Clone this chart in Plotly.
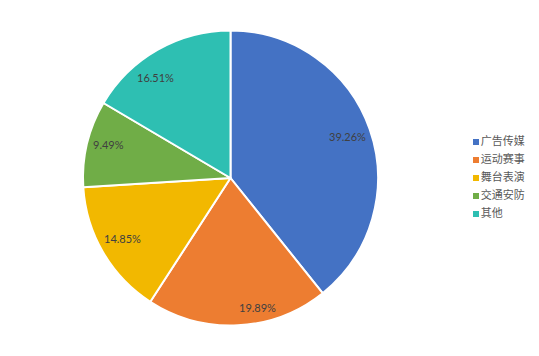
import math
import plotly.graph_objects as go

categories = ["广告传媒", "运动赛事", "舞台表演", "交通安防", "其他"]
values = [39.26, 19.89, 14.85, 9.49, 16.51]
colors = ["#4472C4", "#ED7D31", "#F2B800", "#70AD47", "#2EBFB2"]

# small angular nudges (deg) and radial fractions mimicking Excel's "best fit" label placement
label_nudge_deg = [0, -9, 1, 2, -7]
label_rfrac = [0.84, 0.9, 0.84, 0.86, 0.85]

W, H = 539, 356
cx, cy, r = 230.5, 178.0, 147.5

fig = go.Figure()
fig.add_trace(go.Pie(
    labels=categories, values=values, sort=False, direction="clockwise",
    rotation=0, marker=dict(colors=colors, line=dict(color="white", width=2)),
    textinfo="none", hoverinfo="label+percent", showlegend=False,
    domain=dict(x=[(cx - r) / W, (cx + r) / W], y=[1 - (cy + r) / H, 1 - (cy - r) / H]),
))

# labels placed along mid-angle of each slice
total = sum(values)
cum = 0.0
for v, nd, rf in zip(values, label_nudge_deg, label_rfrac):
    mid = (cum + v / 2) / total * 2 * math.pi + math.radians(nd)
    cum += v
    px = cx + rf * r * math.sin(mid)
    py = cy - rf * r * math.cos(mid)
    fig.add_annotation(x=px / W, y=1 - py / H, xref="paper", yref="paper",
                       xanchor="center", yanchor="middle",
                       text=f"{v:.2f}%", showarrow=False,
                       font=dict(size=11, color="#404040", family="Lato"))

# manual legend on a pixel-space overlay axis
lx, ly0, dy = 476, 142, 18
fig.add_trace(go.Scatter(
    x=[lx] * len(categories), y=[ly0 + i * dy for i in range(len(categories))],
    mode="markers+text", text=categories, textposition="middle right",
    textfont=dict(size=11, color="#595959", family="Noto Sans CJK SC"),
    marker=dict(symbol="square", size=6, color=colors),
    showlegend=False, hoverinfo="skip", cliponaxis=False,
))

fig.update_layout(
    width=W, height=H, margin=dict(l=0, r=0, t=0, b=0),
    paper_bgcolor="white", plot_bgcolor="rgba(0,0,0,0)", showlegend=False,
    xaxis=dict(visible=False, range=[0, W], domain=[0, 1], fixedrange=True),
    yaxis=dict(visible=False, range=[H, 0], domain=[0, 1], fixedrange=True),
)
fig.write_html("out.html", post_script="document.body.style.margin='0';",
               config={"displayModeBar": False})
